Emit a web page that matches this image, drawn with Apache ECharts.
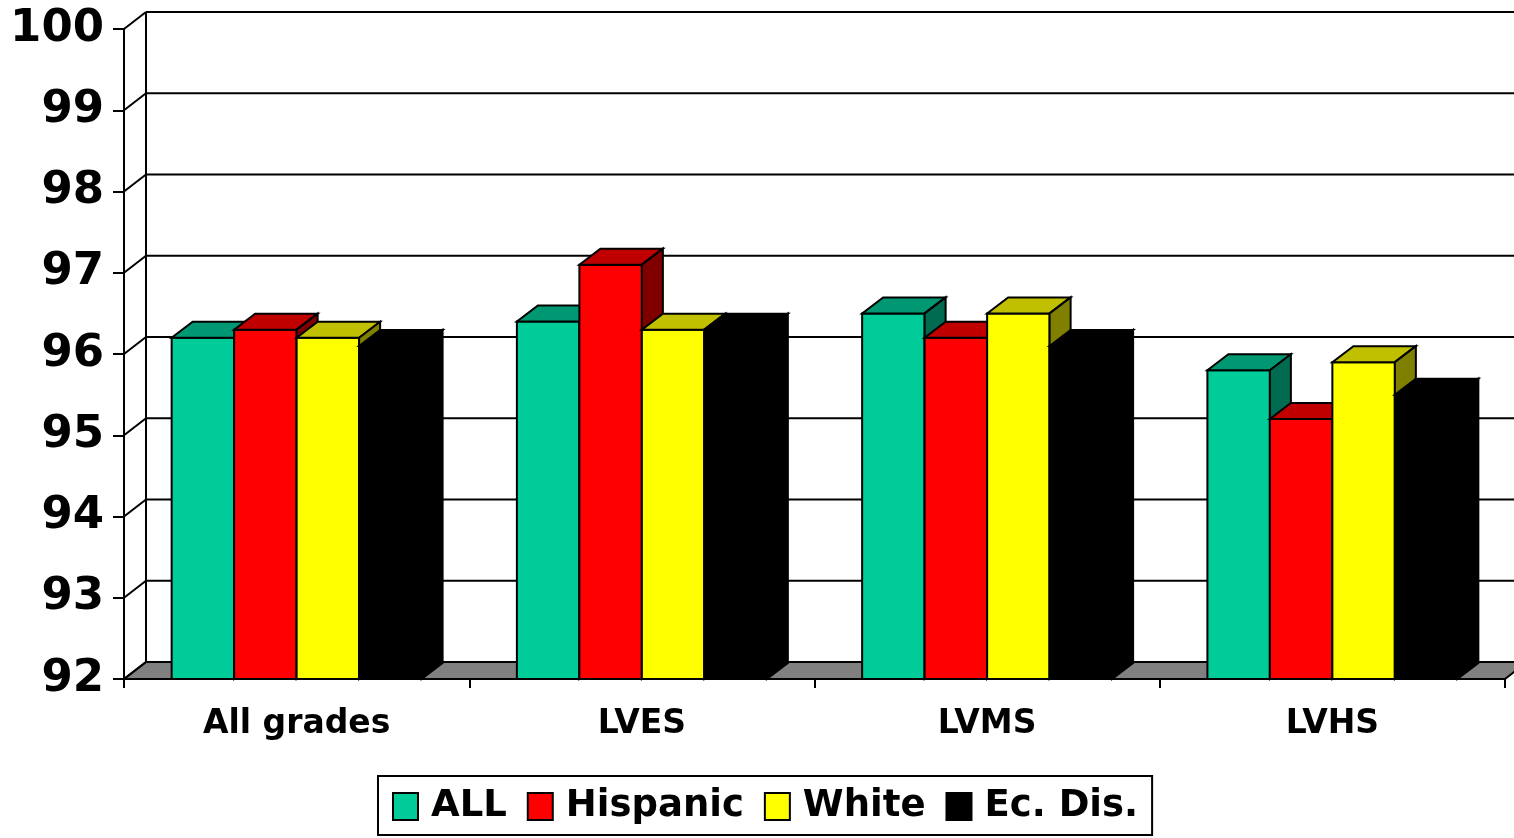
<!DOCTYPE html>
<html>
<head>
<meta charset="utf-8">
<script src="https://cdn.jsdelivr.net/npm/echarts@6/dist/echarts.min.js"></script>
<style>
html,body{margin:0;padding:0;background:#fff;}
#chart{width:1514px;height:838px;}
</style>
</head>
<body>
<div id="chart"></div>
<script>
const categories = ['All grades', 'LVES', 'LVMS', 'LVHS'];
const seriesNames = ['ALL', 'Hispanic', 'White', 'Ec. Dis.'];
const allVals = [96.2, 96.4, 96.5, 95.8];
const hispanicVals = [96.3, 97.1, 96.2, 95.2];
const whiteVals = [96.2, 96.3, 96.5, 95.9];
const ecDisVals = [96.1, 96.3, 96.1, 95.5];
const yTicks = [92, 93, 94, 95, 96, 97, 98, 99, 100];

const FONT = 'DejaVu Sans';
const BAR_DX = 21, BAR_DY = -16;
const WALL_DX = 22, WALL_DY = -17;
const LW = 2;

const palettes = [
  { front: '#00CC99', top: '#009873', side: '#006B50' },
  { front: '#FF0000', top: '#C00000', side: '#800000' },
  { front: '#FFFF00', top: '#C0C000', side: '#808000' },
  { front: '#000000', top: '#000000', side: '#000000' }
];
const valueSets = [allVals, hispanicVals, whiteVals, ecDisVals];

function barRenderer(s) {
  const pal = palettes[s];
  return function (params, api) {
    const ci = api.value(0), v = api.value(1);
    const band = api.size([1, 0])[0];
    const c = api.coord([ci, v]);
    const base = api.coord([ci, yTicks[0]]);
    const w = band * 0.181;
    const x0 = c[0] - (w * 4) / 2 + s * w;
    const yT = c[1], yB = base[1];
    const st = { stroke: '#000', lineWidth: LW, lineJoin: 'miter' };
    return {
      type: 'group',
      children: [
        { type: 'rect', shape: { x: x0, y: yT, width: w, height: yB - yT },
          style: Object.assign({ fill: pal.front }, st) },
        { type: 'polygon', shape: { points: [[x0, yT], [x0 + w, yT], [x0 + w + BAR_DX, yT + BAR_DY], [x0 + BAR_DX, yT + BAR_DY]] },
          style: Object.assign({ fill: pal.top }, st) },
        { type: 'polygon', shape: { points: [[x0 + w, yT], [x0 + w + BAR_DX, yT + BAR_DY], [x0 + w + BAR_DX, yB + BAR_DY], [x0 + w, yB]] },
          style: Object.assign({ fill: pal.side }, st) }
      ]
    };
  };
}

function wallRenderer(params, api) {
  const cs = params.coordSys;
  const v = api.value(1);
  const y = api.coord([0, v])[1];
  const gx = cs.x, gw = cs.width;
  const ln = { stroke: '#000', lineWidth: LW };
  const children = [];
  if (v === yTicks[0]) {
    const yTop = api.coord([0, yTicks[yTicks.length - 1]])[1];
    children.push({ type: 'polygon',
      shape: { points: [[gx, y], [gx + gw, y], [gx + gw + WALL_DX, y + WALL_DY], [gx + WALL_DX, y + WALL_DY]] },
      style: { fill: '#808080', stroke: '#000', lineWidth: LW } });
    children.push({ type: 'line',
      shape: { x1: gx + WALL_DX, y1: yTop + WALL_DY, x2: gx + WALL_DX, y2: y + WALL_DY }, style: ln });
  } else {
    children.push({ type: 'line',
      shape: { x1: gx + WALL_DX, y1: y + WALL_DY, x2: gx + gw + WALL_DX + 20, y2: y + WALL_DY }, style: ln });
  }
  children.push({ type: 'line', shape: { x1: gx, y1: y, x2: gx + WALL_DX, y2: y + WALL_DY }, style: ln });
  return { type: 'group', children: children };
}

const chart = echarts.init(document.getElementById('chart'), null, { renderer: 'canvas' });

const series = [{
  type: 'custom',
  name: '__wall',
  silent: true,
  z: 1,
  renderItem: wallRenderer,
  data: yTicks.map(v => [0, v]),
  clip: false
}];
seriesNames.forEach((n, s) => {
  series.push({
    type: 'custom',
    name: n,
    z: 2 + s,
    renderItem: barRenderer(s),
    itemStyle: { color: palettes[s].front, borderColor: '#000', borderWidth: LW },
    data: valueSets[s].map((v, i) => [i, v]),
    clip: false
  });
});

chart.setOption({
  animation: false,
  backgroundColor: '#fff',
  grid: { left: 124, right: 9, top: 29, bottom: 159, containLabel: false },
  xAxis: {
    type: 'category',
    data: categories,
    boundaryGap: true,
    axisLine: { show: true, lineStyle: { color: '#000', width: LW } },
    axisTick: { show: true, length: 9, lineStyle: { color: '#000', width: LW } },
    axisLabel: { color: '#000', fontFamily: FONT, fontWeight: 'bold', fontSize: 33, margin: 29 },
    splitLine: { show: false }
  },
  yAxis: {
    type: 'value',
    min: 92, max: 100, interval: 1,
    axisLine: { show: true, lineStyle: { color: '#000', width: LW } },
    axisTick: { show: true, length: 11, lineStyle: { color: '#000', width: LW } },
    axisLabel: { color: '#000', fontFamily: FONT, fontWeight: 'bold', fontSize: 45, margin: 20 },
    splitLine: { show: false }
  },
  legend: {
    data: seriesNames.map((n, s) => ({
      name: n, icon: 'rect',
      itemStyle: { color: palettes[s].front, borderColor: '#000', borderWidth: LW }
    })),
    left: 378,
    top: 776,
    itemWidth: 25,
    itemHeight: 27,
    itemGap: 20,
    padding: [12, 14, 10, 14],
    borderColor: '#000',
    borderWidth: LW,
    textStyle: { color: '#000', fontFamily: FONT, fontWeight: 'bold', fontSize: 37, padding: [0, 0, 0, 8] }
  },
  series: series
});
</script>
</body>
</html>
